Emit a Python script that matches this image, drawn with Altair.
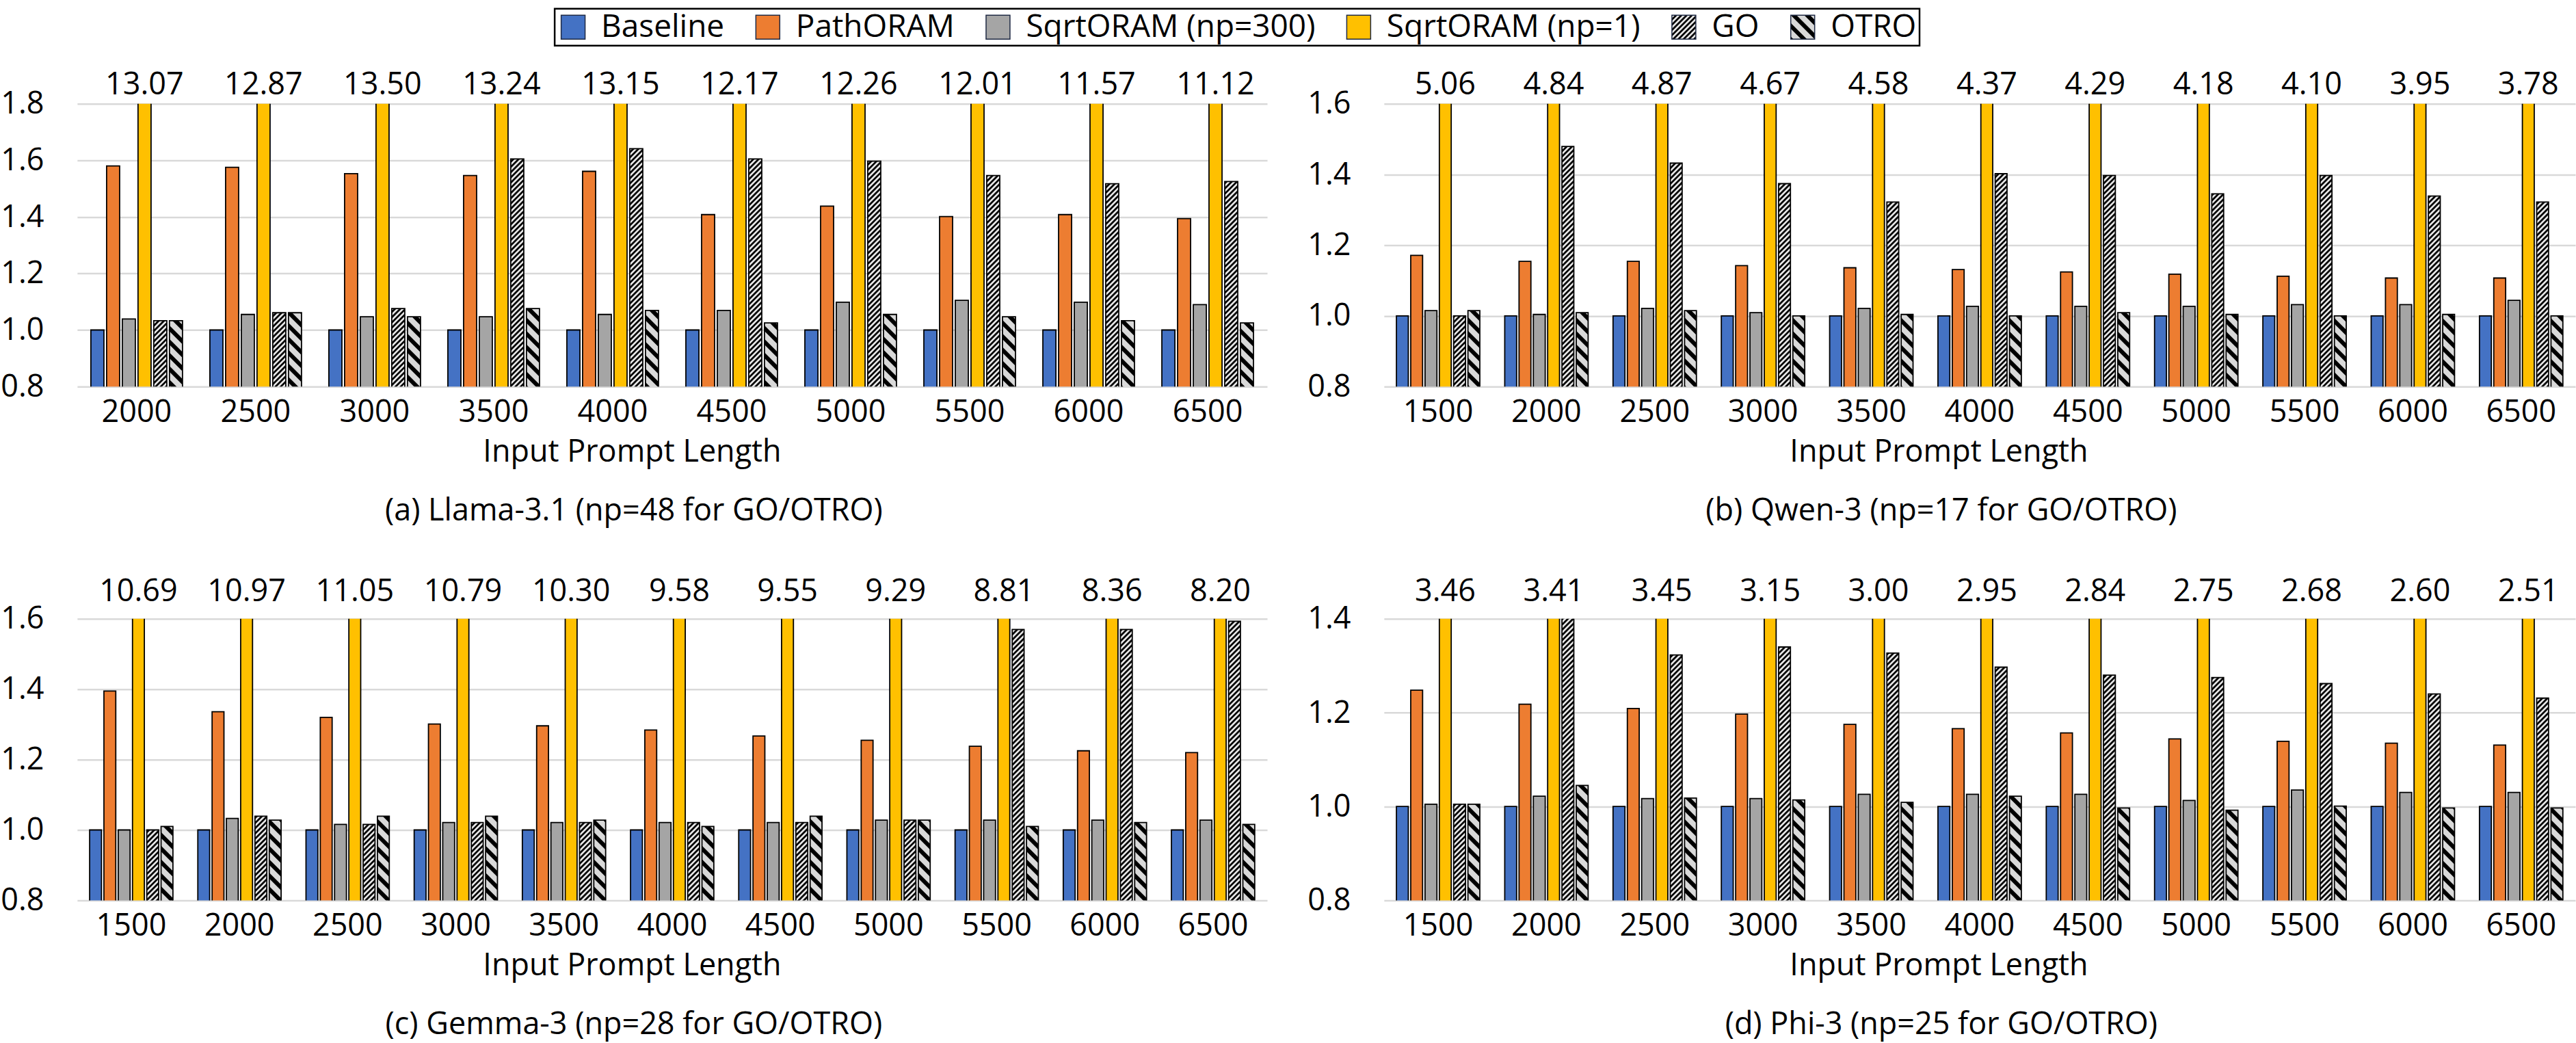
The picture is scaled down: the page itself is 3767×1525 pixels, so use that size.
import altair as alt
import pandas as pd
import jinja2
from altair.utils import html as alt_html

# ---------------- data ----------------
SERIES = ["Baseline", "PathORAM", "SqrtORAM (np=300)", "SqrtORAM (np=1)", "GO", "OTRO"]

CATS_A = ["2000", "2500", "3000", "3500", "4000", "4500", "5000", "5500", "6000", "6500"]
CATS_B = ["1500", "2000", "2500", "3000", "3500", "4000", "4500", "5000", "5500", "6000", "6500"]

# (a) Llama-3.1
LLAMA_BASE = [1.0, 1.0, 1.0, 1.0, 1.0, 1.0, 1.0, 1.0, 1.0, 1.0]
LLAMA_PATH = [1.580, 1.575, 1.553, 1.546, 1.561, 1.408, 1.438, 1.401, 1.408, 1.394]
LLAMA_SQRT300 = [1.039, 1.055, 1.047, 1.047, 1.055, 1.069, 1.098, 1.105, 1.098, 1.090]
LLAMA_SQRT1 = [13.07, 12.87, 13.50, 13.24, 13.15, 12.17, 12.26, 12.01, 11.57, 11.12]
LLAMA_GO = [1.033, 1.061, 1.076, 1.605, 1.641, 1.605, 1.597, 1.546, 1.517, 1.525]
LLAMA_OTRO = [1.033, 1.061, 1.047, 1.076, 1.069, 1.025, 1.055, 1.047, 1.033, 1.025]

# (b) Qwen-3
QWEN_BASE = [1.0, 1.0, 1.0, 1.0, 1.0, 1.0, 1.0, 1.0, 1.0, 1.0, 1.0]
QWEN_PATH = [1.171, 1.154, 1.154, 1.142, 1.136, 1.131, 1.124, 1.118, 1.112, 1.107, 1.107]
QWEN_SQRT300 = [1.015, 1.004, 1.021, 1.009, 1.021, 1.027, 1.027, 1.027, 1.032, 1.032, 1.044]
QWEN_SQRT1 = [5.06, 4.84, 4.87, 4.67, 4.58, 4.37, 4.29, 4.18, 4.10, 3.95, 3.78]
QWEN_GO = [1.000, 1.479, 1.432, 1.374, 1.322, 1.402, 1.397, 1.345, 1.397, 1.339, 1.322]
QWEN_OTRO = [1.015, 1.009, 1.015, 1.000, 1.004, 1.000, 1.009, 1.004, 1.000, 1.004, 1.000]

# (c) Gemma-3
GEMMA_BASE = [1.0, 1.0, 1.0, 1.0, 1.0, 1.0, 1.0, 1.0, 1.0, 1.0, 1.0]
GEMMA_PATH = [1.395, 1.336, 1.320, 1.301, 1.296, 1.284, 1.267, 1.255, 1.238, 1.225, 1.220]
GEMMA_SQRT300 = [1.000, 1.033, 1.016, 1.021, 1.021, 1.021, 1.021, 1.028, 1.028, 1.028, 1.028]
GEMMA_SQRT1 = [10.69, 10.97, 11.05, 10.79, 10.30, 9.58, 9.55, 9.29, 8.81, 8.36, 8.20]
GEMMA_GO = [1.000, 1.039, 1.016, 1.021, 1.021, 1.021, 1.021, 1.028, 1.570, 1.570, 1.593]
GEMMA_OTRO = [1.010, 1.028, 1.039, 1.039, 1.028, 1.010, 1.039, 1.028, 1.010, 1.021, 1.016]

# (d) Phi-3
PHI_BASE = [1.0, 1.0, 1.0, 1.0, 1.0, 1.0, 1.0, 1.0, 1.0, 1.0, 1.0]
PHI_PATH = [1.248, 1.218, 1.209, 1.197, 1.175, 1.166, 1.157, 1.144, 1.139, 1.135, 1.131]
PHI_SQRT300 = [1.005, 1.022, 1.017, 1.017, 1.026, 1.026, 1.026, 1.013, 1.035, 1.030, 1.030]
PHI_SQRT1 = [3.46, 3.41, 3.45, 3.15, 3.00, 2.95, 2.84, 2.75, 2.68, 2.60, 2.51]
PHI_GO = [1.005, 1.410, 1.323, 1.340, 1.327, 1.297, 1.280, 1.275, 1.262, 1.240, 1.231]
PHI_OTRO = [1.005, 1.045, 1.018, 1.014, 1.009, 1.022, 0.997, 0.992, 1.001, 0.997, 0.997]

TICKS_18 = [0.8, 1.0, 1.2, 1.4, 1.6, 1.8]
TICKS_16 = [0.8, 1.0, 1.2, 1.4, 1.6]
TICKS_14 = [0.8, 1.0, 1.2, 1.4]

CAPTIONS = [
    "(a) Llama-3.1 (np=48 for GO/OTRO)",
    "(b) Qwen-3 (np=17 for GO/OTRO)",
    "(c) Gemma-3 (np=28 for GO/OTRO)",
    "(d) Phi-3 (np=25 for GO/OTRO)",
]

# ---------------- style ----------------
FONT = "Open Sans"
FS = 45
COLORS = ["#4472C4", "#ED7D31", "#A5A5A5", "#FFC000", "url(#pGO) #3c3c3c", "url(#pOTRO) #9a9a9a"]

PATTERN_DEFS = """
<svg width="0" height="0" style="position:absolute;left:0;top:0;width:0;height:0;overflow:hidden" aria-hidden="true">
 <defs>
  <pattern id="pGO" patternUnits="userSpaceOnUse" width="5.4" height="5.4" patternTransform="rotate(45)">
   <rect x="0" y="0" width="5.4" height="5.4" fill="#e6e6e6"/>
   <rect x="0" y="0" width="2.7" height="5.4" fill="#000000"/>
  </pattern>
  <pattern id="pOTRO" patternUnits="userSpaceOnUse" width="14" height="14" patternTransform="rotate(-45)">
   <rect x="0" y="0" width="14" height="14" fill="#d9d9d9"/>
   <rect x="0" y="0" width="6" height="14" fill="#000000"/>
  </pattern>
 </defs>
</svg>
"""


def make_df(cats, cols):
    rows = []
    for i, c in enumerate(cats):
        for s, vals in zip(SERIES, cols):
            rows.append({"Length": c, "Scheme": s, "Value": vals[i]})
    return pd.DataFrame(rows)


def panel(cats, cols, ticks, caption, width, height, label_y, show_legend):
    df = make_df(cats, cols)
    ymin, ymax = ticks[0], ticks[-1]
    if show_legend:
        # legendX / legendY are relative to the top-left of panel (a)'s plot area
        legend = alt.Legend(
            orient="none", legendX=699, legendY=-139, direction="horizontal",
            columns=6, title=None, symbolType="square", symbolSize=1225,
            symbolStrokeColor="#1f2a44", symbolStrokeWidth=1.5,
            labelFontSize=46, labelFont=FONT, labelColor="black", labelLimit=1000,
            labelOffset=18, columnPadding=40, padding=4,
            strokeColor="black", fillColor="white",
        )
    else:
        legend = None
    xenc = alt.X(
        "Length:N", sort=cats,
        scale=alt.Scale(domain=cats, paddingInner=0.23, paddingOuter=0.115),
        axis=alt.Axis(
            title="Input Prompt Length", labelAngle=0, ticks=False, tickSize=0,
            domain=False, grid=False, labelPadding=15, titlePadding=13,
            titleX=812, labelFontSize=FS, titleFontSize=FS, titleFontWeight="normal",
        ),
    )
    xoff = alt.XOffset("Scheme:N", sort=SERIES,
                       scale=alt.Scale(domain=SERIES, paddingInner=0.17, paddingOuter=0))
    bars = alt.Chart(df).mark_bar(clip=True, stroke="black", strokeWidth=1.8).encode(
        x=xenc,
        xOffset=xoff,
        y=alt.Y(
            "Value:Q",
            scale=alt.Scale(domain=[ymin, ymax], zero=False, nice=False),
            axis=alt.Axis(
                values=ticks, format=".1f", title=None, ticks=False, tickSize=0,
                domain=False, labelPadding=49, labelFontSize=FS,
                gridColor="#d9d9d9", gridWidth=2.5,
            ),
        ),
        color=alt.Color("Scheme:N", sort=SERIES,
                        scale=alt.Scale(domain=SERIES, range=COLORS),
                        legend=legend),
    )
    labels = alt.Chart(df).transform_filter(
        alt.datum.Scheme == "SqrtORAM (np=1)"
    ).mark_text(fontSize=FS, font=FONT, baseline="alphabetic", align="center", color="black").encode(
        x=alt.X("Length:N", sort=cats),
        xOffset=alt.XOffset("Scheme:N", sort=SERIES),
        y=alt.value(label_y),
        text=alt.Text("Value:Q", format=".2f"),
    )
    return alt.layer(bars, labels).properties(
        width=width, height=height,
        title=alt.TitleParams(
            text=caption, orient="bottom", frame="bounds", anchor="middle",
            fontSize=FS, font=FONT, fontWeight="normal", color="black", offset=42,
        ),
    )


pa = panel(CATS_A, [LLAMA_BASE, LLAMA_PATH, LLAMA_SQRT300, LLAMA_SQRT1, LLAMA_GO, LLAMA_OTRO],
           TICKS_18, CAPTIONS[0], 1742, 414, -14, True)
pb = panel(CATS_B, [QWEN_BASE, QWEN_PATH, QWEN_SQRT300, QWEN_SQRT1, QWEN_GO, QWEN_OTRO],
           TICKS_16, CAPTIONS[1], 1744, 414, -14, False)
pc = panel(CATS_B, [GEMMA_BASE, GEMMA_PATH, GEMMA_SQRT300, GEMMA_SQRT1, GEMMA_GO, GEMMA_OTRO],
           TICKS_16, CAPTIONS[2], 1742, 412, -26, False)
pd_ = panel(CATS_B, [PHI_BASE, PHI_PATH, PHI_SQRT300, PHI_SQRT1, PHI_GO, PHI_OTRO],
            TICKS_14, CAPTIONS[3], 1744, 412, -26, False)

row1 = alt.hconcat(pa, pb, spacing=57).resolve_scale(x="independent", y="independent", xOffset="independent")
row2 = alt.hconcat(pc, pd_, spacing=57).resolve_scale(x="independent", y="independent", xOffset="independent")

chart = alt.vconcat(row1, row2, spacing=71).properties(
    padding={"left": 0, "top": 10, "right": 0, "bottom": 5},
    background="white",
).configure(
    font=FONT,
).configure_view(
    stroke="transparent",
).configure_axis(
    labelColor="black", titleColor="black", labelFont=FONT, titleFont=FONT,
).configure_legend(
    strokeWidth=2.5,
)


class _PatternTemplate(jinja2.Template):
    def render(self, *args, **kwargs):
        page = alt_html.TEMPLATES["standard"].render(*args, **kwargs)
        if "<body>" in page:
            return page.replace("<body>", "<body>\n" + PATTERN_DEFS, 1)
        return PATTERN_DEFS + page


chart.save("out.html", embed_options={"renderer": "svg", "actions": False},
           template=_PatternTemplate(""))
